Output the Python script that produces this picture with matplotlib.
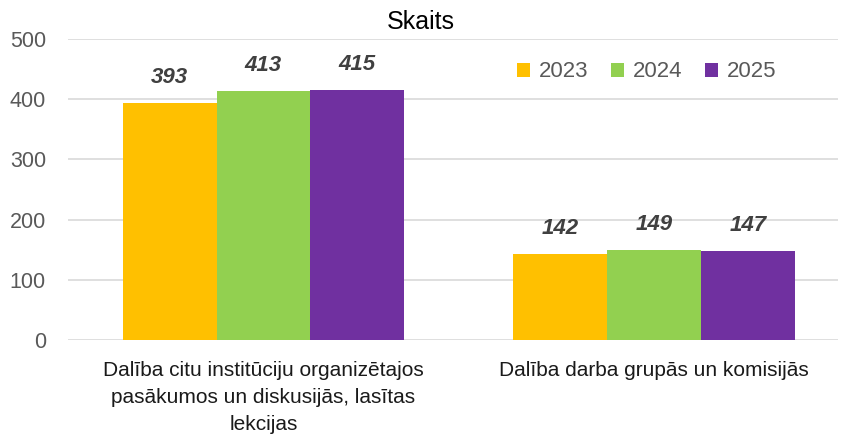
import matplotlib
matplotlib.use("Agg")
import matplotlib.pyplot as plt
import numpy as np

# ── Data ─────────────────────────────────────────────────────────────────────
categories = [
    "Dalība citu institūciju organizētajos\npasākumos un diskusijās, lasītas\nlekcijas",
    "Dalība darba grupās un komisijās",
]
years = ["2023", "2024", "2025"]
values_2023 = [393, 142]
values_2024 = [413, 149]
values_2025 = [415, 147]
colors = ["#FFC000", "#92D050", "#7030A0"]

plt.rcParams["font.family"] = ["Liberation Sans", "DejaVu Sans"]

# ── Plot ─────────────────────────────────────────────────────────────────────
fig = plt.figure(figsize=(8.41, 4.41), dpi=100)
ax = fig.add_axes([0.081, 0.229, 0.915, 0.683])

x = np.arange(len(categories))
w = 0.24
series = [values_2023, values_2024, values_2025]
for i, (vals, year, col) in enumerate(zip(series, years, colors)):
    pos = x + (i - 1) * w
    ax.bar(pos, vals, width=w, color=col, label=year, zorder=3)
    for px, v in zip(pos, vals):
        ax.text(px, v + 43, str(v), ha="center", va="center", fontsize=16,
                fontweight="bold", fontstyle="italic", color="#404040")

ax.set_xlim(-0.5, 1.47)
ax.set_ylim(0, 500)
ax.set_yticks(range(0, 501, 100))
ax.tick_params(axis="y", labelsize=15.5, labelcolor="#595959", length=0, pad=16)
ax.set_xticks(x)
ax.set_xticklabels(categories, fontsize=15, color="#1a1a1a", linespacing=1.55)
ax.tick_params(axis="x", length=0, pad=15)
ax.grid(axis="y", color="#d9d9d9", linewidth=1.2, zorder=0)
for s in ax.spines.values():
    s.set_visible(False)

fig.text(0.5, 1 - 22 / 441, "Skaits", ha="center", va="center",
         fontsize=18, color="#000000")

leg = ax.legend(loc="center", bbox_to_anchor=(0.752, 0.89), ncol=3,
                frameon=False, fontsize=16, handlelength=0.6, handleheight=0.6,
                handletextpad=0.4, columnspacing=1.0)
for t in leg.get_texts():
    t.set_color("#595959")

fig.savefig("out.png", dpi=100)
